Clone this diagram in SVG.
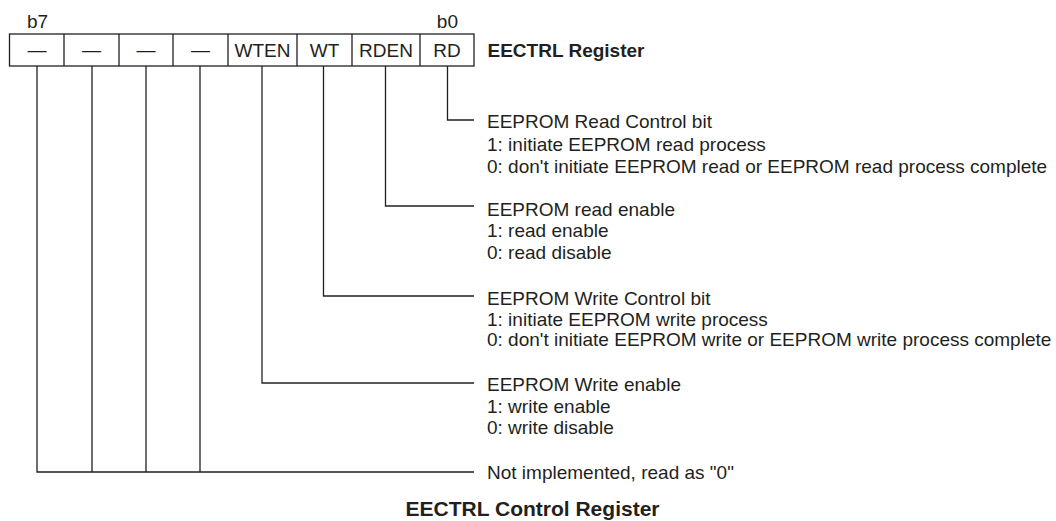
<svg xmlns="http://www.w3.org/2000/svg" width="1056" height="521" viewBox="0 0 1056 521">
<style>
text{font-family:"Liberation Sans",Arial,sans-serif;font-size:19px;fill:#231f20}
.c{text-anchor:middle}
.b{font-weight:bold}
.t{font-weight:bold;font-size:21px;text-anchor:middle}
.ln{fill:none;stroke:#231f20;stroke-width:1.3}
</style>
<rect width="1056" height="521" fill="#fff"/>
<g id="register">
<rect class="ln" x="9.5" y="34" width="464.5" height="32"/>
<path class="ln" d="M64,34V66M119,34V66M173,34V66M228,34V66M297,34V66M352,34V66M420,34V66"/>
<text x="27" y="28">b7</text>
<text x="458" y="28" text-anchor="end">b0</text>
<text class="c" x="37" y="56">—</text>
<text class="c" x="91.5" y="56">—</text>
<text class="c" x="146" y="56">—</text>
<text class="c" x="200.5" y="56">—</text>
<text class="c" x="262.5" y="57">WTEN</text>
<text class="c" x="324.5" y="57">WT</text>
<text class="c" x="386" y="57">RDEN</text>
<text class="c" x="447" y="57">RD</text>
<text class="b" x="487.5" y="57">EECTRL Register</text>
</g>
<g id="connectors">
<path class="ln" d="M447.5,66V120H474"/>
<path class="ln" d="M385.5,66V206H474"/>
<path class="ln" d="M323.5,66V296H474"/>
<path class="ln" d="M262,66V383H474"/>
<path class="ln" d="M37,66V472H474M92,66V472M146,66V472M200,66V472"/>
</g>
<g id="rd">
<text x="487" y="128">EEPROM Read Control bit</text>
<text x="487" y="150.5">1: initiate EEPROM read process</text>
<text x="487" y="173">0: don't initiate EEPROM read or EEPROM read process complete</text>
</g>
<g id="rden">
<text x="487" y="215.5">EEPROM read enable</text>
<text x="487" y="237">1: read enable</text>
<text x="487" y="259">0: read disable</text>
</g>
<g id="wt">
<text x="487" y="305">EEPROM Write Control bit</text>
<text x="487" y="325.5">1: initiate EEPROM write process</text>
<text x="487" y="346">0: don't initiate EEPROM write or EEPROM write process complete</text>
</g>
<g id="wten">
<text x="487" y="391">EEPROM Write enable</text>
<text x="487" y="412.5">1: write enable</text>
<text x="487" y="434">0: write disable</text>
</g>
<g id="unimpl">
<text x="487" y="479">Not implemented, read as "0"</text>
</g>
<text class="t" x="532.5" y="516">EECTRL Control Register</text>
</svg>
